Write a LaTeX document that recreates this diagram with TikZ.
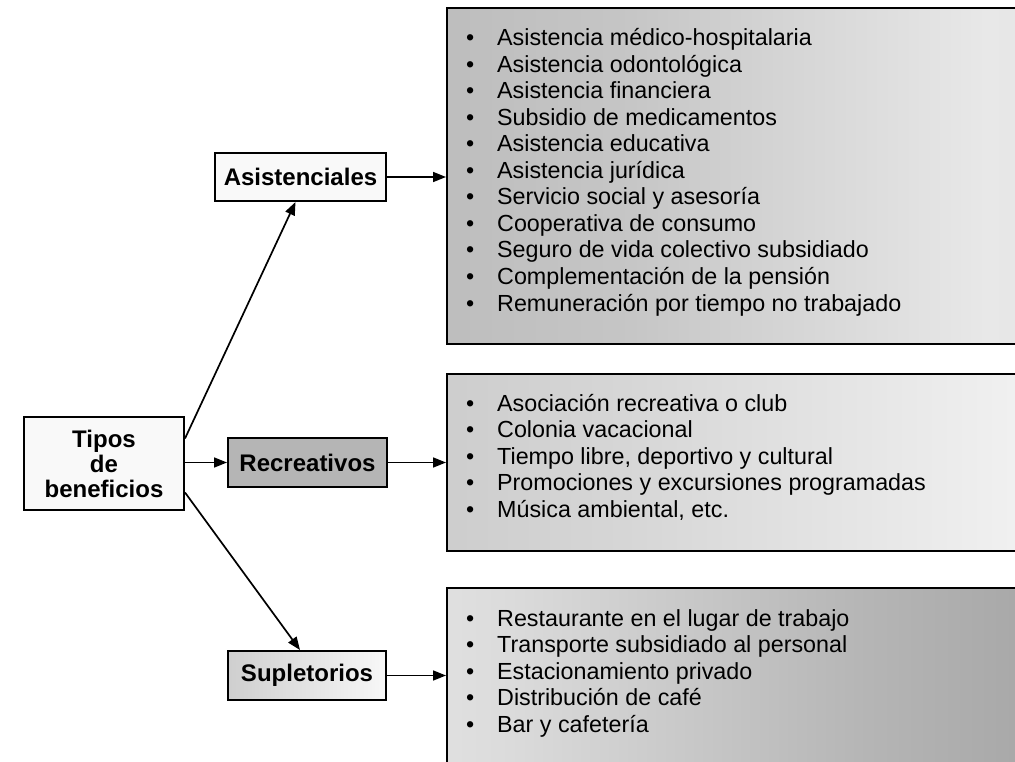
\documentclass[tikz,border=0pt]{standalone}
\usepackage{fontspec}
\setmainfont{Liberation Sans}
\usetikzlibrary{arrows.meta}
\pgfdeclarehorizontalshading{shboxone}{100bp}{color(0bp)=(gray!62); color(40bp)=(gray!45); color(70bp)=(gray!18); color(85bp)=(gray!25); color(95bp)=(gray!50); color(100bp)=(gray!50)}
\pgfdeclarehorizontalshading{shboxtwo}{100bp}{color(0bp)=(gray!50); color(40bp)=(gray!32); color(75bp)=(gray!10); color(88bp)=(gray!22); color(95bp)=(gray!45); color(100bp)=(gray!45)}
\pgfdeclarehorizontalshading{shboxthree}{100bp}{color(0bp)=(gray!8); color(30bp)=(gray!28); color(60bp)=(gray!58); color(95bp)=(gray!85); color(100bp)=(gray!85)}
\begin{document}
\begin{tikzpicture}[x=1pt,y=-1pt,
  lbl/.style={draw=black, line width=2pt, font=\fontsize{24}{25}\selectfont\bfseries, inner sep=0pt, align=center},
  bigbox/.style={draw=black, line width=2.2pt, anchor=north west, minimum width=600pt, inner sep=0pt},
  item/.style={anchor=base west, inner sep=0pt, font=\fontsize{23.3}{26}\selectfont},
  arr/.style={line width=1.7pt, -{Triangle[length=13pt,width=10pt]}}
]
\useasboundingbox (0,0) rectangle (1015,762);
\fill[white] (0,0) rectangle (1015,762);
\begin{scope}
\clip (0,0) rectangle (1015,762);
% big boxes
\node[bigbox, shading=shboxone, minimum height=336pt] (box1) at (446,7) {};
\node[bigbox, shading=shboxtwo, minimum height=177pt] (box2) at (446,373) {};
\node[bigbox, shading=shboxthree, minimum height=190pt] (box3) at (446,587) {};
\end{scope}
% items
\foreach \t [count=\i] in {Asistencia médico-hospitalaria, Asistencia odontológica, Asistencia financiera, Subsidio de medicamentos, Asistencia educativa, Asistencia jurídica, Servicio social y asesoría, Cooperativa de consumo, Seguro de vida colectivo subsidiado, Complementación de la pensión, Remuneración por tiempo no trabajado}
  \node[item] (a\i) at (466,{46+26.5*(\i-1)}) {\makebox[31pt][l]{•}\t};
\foreach \t [count=\i] in {Asociación recreativa o club, Colonia vacacional, {Tiempo libre, deportivo y cultural}, Promociones y excursiones programadas, {Música ambiental, etc.}}
  \node[item] (b\i) at (466,{411+26.5*(\i-1)}) {\makebox[31pt][l]{•}\t};
\foreach \t [count=\i] in {Restaurante en el lugar de trabajo, Transporte subsidiado al personal, Estacionamiento privado, Distribución de café, Bar y cafetería}
  \node[item] (c\i) at (466,{626+26.5*(\i-1)}) {\makebox[31pt][l]{•}\t};
% label boxes
\node[lbl, fill=gray!5, minimum width=160pt, minimum height=93pt] (tipos) at (104,463.5) {Tipos\\de\\beneficios};
\node[lbl, fill=gray!5, minimum width=171pt, minimum height=48pt] (asis) at (300.5,177) {Asistenciales};
\node[lbl, fill=gray!58, minimum width=159pt, minimum height=49pt] (rec) at (307.5,462.5) {Recreativos};
\node[lbl, left color=gray!38, right color=gray!6, minimum width=158pt, minimum height=49pt] (sup) at (307,675.5) {Supletorios};
% connectors
\draw[arr] (asis.east) -- (asis.east -| box1.west);
\draw[arr] (tipos.east |- rec.west) -- (rec.west);
\draw[arr] (rec.east) -- (rec.east -| box2.west);
\draw[arr] (sup.east) -- (sup.east -| box3.west);
\draw[arr] ([yshift=25pt]tipos.east) -- ([xshift=-5pt]asis.south);
\draw[arr] ([yshift=-29pt]tipos.east) -- ([xshift=-7pt]sup.north);
\end{tikzpicture}
\end{document}
